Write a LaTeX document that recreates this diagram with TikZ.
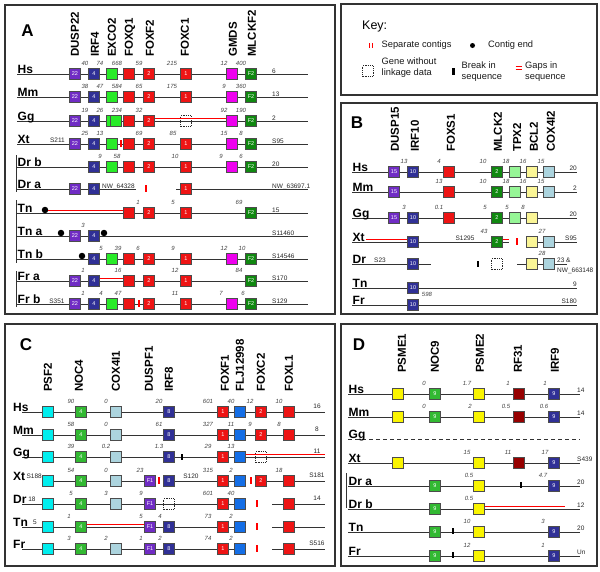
\documentclass[tikz,border=0pt]{standalone}
\usepackage{fontspec}
\setmainfont{Liberation Sans}
\definecolor{genepurple}{RGB}{112,44,196}
\definecolor{genenavy}{RGB}{48,48,150}
\definecolor{genegreen}{RGB}{40,235,40}
\definecolor{genemidgreen}{RGB}{50,185,50}
\definecolor{genedkgreen}{RGB}{16,136,16}
\definecolor{genelime}{RGB}{150,245,150}
\definecolor{genered}{RGB}{238,20,20}
\definecolor{genemaroon}{RGB}{150,0,0}
\definecolor{genemagenta}{RGB}{238,0,238}
\definecolor{genepale}{RGB}{250,245,150}
\definecolor{geneyellow}{RGB}{250,245,0}
\definecolor{genesteel}{RGB}{172,212,222}
\definecolor{genecyan}{RGB}{0,238,238}
\definecolor{geneblue}{RGB}{20,110,230}
\begin{document}
\begin{tikzpicture}
[x=1pt,y=-1pt,
  panelbox/.style={draw=black!80,line width=1.3pt},
  chromline/.style={draw=black!80,line width=0.9pt},
  gapline/.style={draw=red,line width=1pt},
  bracketline/.style={draw=black!80,line width=1pt},
  genebox/.style={shape=rectangle,draw=black!70,line width=0.8pt,minimum size=10.5pt,inner sep=0pt,text=white,font=\fontsize{5.5}{6}\selectfont},
  nolink/.style={genebox,draw=black!85,densely dotted,node contents={\mbox{}}},
  contigbar/.style={shape=rectangle,fill=red,inner sep=0pt,minimum width=2pt,minimum height=7pt},
  breakbar/.style={shape=rectangle,fill=black,inner sep=0pt,minimum width=2.2pt,minimum height=6.5pt},
  contigend/.style={shape=circle,fill=black,inner sep=0pt,minimum size=6.5pt},
  panellabel/.style={inner sep=0pt,font=\bfseries\fontsize{17}{20}\selectfont},
  genelabel/.style={rotate=90,anchor=west,inner sep=0pt,font=\bfseries\fontsize{11.5}{13}\selectfont},
  specieslabel/.style={anchor=base west,inner sep=0pt,font=\bfseries\fontsize{12}{14}\selectfont},
  distlabel/.style={inner sep=0pt,text=black!75,font=\itshape\fontsize{6}{7}\selectfont},
  endlabel/.style={anchor=base west,inner sep=0pt,text=black!85,font=\fontsize{6.5}{8}\selectfont},
  keytext/.style={anchor=west,inner sep=0pt,align=left,text=black!90,font=\fontsize{9.3}{11}\selectfont},
  %% one style per gene
  dusp22/.style={genebox,fill=genepurple,node contents={22}},
  irf4/.style={genebox,fill=genenavy,node contents={4}},
  exco2/.style={genebox,fill=genegreen,node contents={\mbox{}}},
  foxq1/.style={genebox,fill=genered,node contents={\mbox{}}},
  foxf2/.style={genebox,fill=genered,node contents={2}},
  foxc1/.style={genebox,fill=genered,node contents={1}},
  gmds/.style={genebox,fill=genemagenta,node contents={\mbox{}}},
  mlckf2/.style={genebox,fill=genedkgreen,node contents={F2}},
  dusp15/.style={genebox,fill=genepurple,node contents={15}},
  irf10/.style={genebox,fill=genenavy,node contents={10}},
  foxs1/.style={genebox,fill=genered,node contents={\mbox{}}},
  mlck2/.style={genebox,fill=genedkgreen,node contents={2}},
  tpx2/.style={genebox,fill=genelime,node contents={\mbox{}}},
  bcl2/.style={genebox,fill=genepale,node contents={\mbox{}}},
  cox4i2/.style={genebox,fill=genesteel,node contents={\mbox{}}},
  psf2/.style={genebox,fill=genecyan,node contents={\mbox{}}},
  noc4/.style={genebox,fill=genemidgreen,node contents={4}},
  cox4i1/.style={genebox,fill=genesteel,node contents={\mbox{}}},
  duspf1/.style={genebox,fill=genepurple,node contents={F1}},
  irf8/.style={genebox,fill=genenavy,node contents={8}},
  foxf1/.style={genebox,fill=genered,node contents={1}},
  flj12998/.style={genebox,fill=geneblue,node contents={\mbox{}}},
  foxc2/.style={genebox,fill=genered,node contents={2}},
  foxl1/.style={genebox,fill=genered,node contents={\mbox{}}},
  psme1/.style={genebox,fill=geneyellow,node contents={\mbox{}}},
  noc9/.style={genebox,fill=genemidgreen,node contents={9}},
  psme2/.style={genebox,fill=geneyellow,node contents={\mbox{}}},
  rf31/.style={genebox,fill=genemaroon,node contents={\mbox{}}},
  irf9/.style={genebox,fill=genenavy,node contents={9}}]
\useasboundingbox (0,0) rectangle (600,571);

%% ---------------- panel A
\draw[panelbox] (5,5) rectangle (335,314);
\node (alabel) at (27.5,31) [panellabel] {A};
\foreach \gname/\x in {DUSP22/75,IRF4/95,EXCO2/112,FOXQ1/130,FOXF2/150,FOXC1/185,GMDS/233,MLCKF2/252}
  \node (alab-\gname) at (\x,57) [genelabel] {\gname};
%% chromosome lines
\foreach \rowname/\y/\species/\xe/\endtext in {
  ahs/74/Hs/308/6, amm/97/Mm/308/13, agg/121/Gg/308/2, axt/144/Xt/308/S95,
  adrb/167/Dr b/308/20, adra/189/Dr a/136/NW\_63697.1, atn/213/Tn/308/15,
  atna/236/Tn a/308/S11460, atnb/259/Tn b/308/S14546, afra/281/Fr a/308/S170,
  afrb/304/Fr b/308/S129} {
  \coordinate (\rowname-s) at (17,\y);
  \coordinate (\rowname-e) at (\xe,\y);
  \draw[chromline] (\rowname-s) -- (\rowname-e);
  \node (\rowname-lab) at (17.5,\y-0.6) [specieslabel] {\species};
  \node (\rowname-end) at (272,\y-0.6) [endlabel] {\endtext};
}
\coordinate (adra-s2) at (176,189);
\coordinate (adra-e2) at (308,189);
\draw[chromline] (adra-s2) -- (adra-e2);
%% genes
\foreach \g/\x in {dusp22/75,irf4/94,exco2/112,foxq1/129,foxf2/149,foxc1/186,gmds/232,mlckf2/251} {
  \node (ahs-\g) at (\x,74) [\g];
  \node (amm-\g) at (\x,97) [\g];
  \node (axt-\g) at (\x,144) [\g];
  \node (afrb-\g) at (\x,304) [\g];
}
\foreach \g/\x in {irf4/94,exco2/112,foxq1/129,foxf2/149,foxc1/186,gmds/232,mlckf2/251} {
  \node (adrb-\g) at (\x,167) [\g];
  \node (atnb-\g) at (\x,259) [\g];
}
\foreach \g/\x in {dusp22/75,irf4/94,exco2/112,foxq1/129,foxf2/149,gmds/232,mlckf2/251}
  \node (agg-\g) at (\x,121) [\g];
\foreach \g/\x in {dusp22/75,irf4/94,foxc1/186}
  \node (adra-\g) at (\x,189) [\g];
\foreach \g/\x in {foxq1/129,foxf2/149,foxc1/186,mlckf2/251}
  \node (atn-\g) at (\x,213) [\g];
\foreach \g/\x in {dusp22/75,irf4/94}
  \node (atna-\g) at (\x,236) [\g];
\foreach \g/\x in {dusp22/75,irf4/94,foxq1/129,foxf2/149,foxc1/186,mlckf2/251}
  \node (afra-\g) at (\x,281) [\g];
\node (agg-exco2b) at (116,121) [exco2];
\node (agg-foxc1) at (186,121) [nolink];
%% contigs, ends and gaps
\node (axt-sep) at (121,143) [contigbar] {};
\node (adra-sep) at (146,188) [contigbar] {};
\node (afrb-sep) at (139,303) [contigbar] {};
\node (atn-dot) at (45,210) [contigend] {};
\node (atna-dot1) at (61,233) [contigend] {};
\node (atna-dot2) at (104,233) [contigend] {};
\node (atnb-dot) at (82,256) [contigend] {};
\draw[gapline] ([yshift=3pt]agg-foxf2.east) -- ([yshift=3pt]agg-gmds.west);
\draw[gapline] (atn-dot.east) -- ([yshift=3pt]atn-foxq1.west);
\draw[gapline] ([yshift=3pt]afra-irf4.east) -- ([yshift=3pt]afra-foxq1.west);
\node (axt-scaf) at (57.5,142.8) [endlabel,anchor=base] {S211};
\node (afrb-scaf) at (57,303) [endlabel,anchor=base] {S351};
\node (adra-nw) at (102,188.4) [endlabel] {NW\_64328};
\draw[bracketline] (16,155) -- (16,192);
\draw[bracketline] (16,200) -- (16,263);
\draw[bracketline] (16,271) -- (16,307);
%% distances
\foreach \rowname/\y/\dists in {
  ahs/63.5/{40/85,74/100,668/117,59/139,215/172,12/224,400/241},
  amm/86.5/{38/85,47/100,584/117,65/139,175/172,9/224,360/241},
  agg/110.5/{19/85,26/100,234/117,32/139,92/224,190/241},
  axt/133.5/{25/85,13/100,69/139,85/173,15/224,8/241},
  adrb/156.5/{9/100,58/117,10/175,9/221,6/241},
  atn/202.5/{1/138,5/173,69/239},
  atna/225.5/{3/83},
  atnb/248.5/{5/101,39/118,6/138,9/173,12/224,10/242},
  afra/270.5/{1/83,16/118,12/175,84/239},
  afrb/293.5/{1/83,4/101,47/118,11/175,7/221,6/243}}
  \foreach \dist/\x [count=\i] in \dists
    \node (\rowname-d\i) at (\x,\y) [distlabel] {\dist};

%% ---------------- key
\draw[panelbox] (341,4) rectangle (597,95);
\node (keytitle) at (362,26) [anchor=west,inner sep=0pt,font=\fontsize{12.5}{14}\selectfont] {Key:};
\node (key-sep1) at (369.5,45) [contigbar,minimum width=1.4pt,minimum height=5pt] {};
\node (key-sep2) at (372.3,45) [contigbar,minimum width=1.4pt,minimum height=5pt] {};
\node (key-septext) at (381.5,45) [keytext] {Separate contigs};
\node (key-dot) at (472.5,45.5) [contigend,minimum size=5pt] {};
\node (key-dottext) at (488,45) [keytext] {Contig end};
\node (key-nolink) at (368,71) [nolink];
\node (key-nolinktext) at (381.5,68) [keytext] {Gene without\\linkage data};
\node (key-brk) at (453.5,71.5) [breakbar] {};
\node (key-brktext) at (461.5,72) [keytext] {Break in\\sequence};
\foreach \yy [count=\i] in {66.7,69.3} {
  \coordinate (key-gap\i-s) at (515.5,\yy);
  \coordinate (key-gap\i-e) at (521.5,\yy);
  \draw[gapline,line width=1.1pt] (key-gap\i-s) -- (key-gap\i-e);
}
\node (key-gaptext) at (525,72) [keytext] {Gaps in\\sequence};

%% ---------------- panel B
\draw[panelbox] (341,103) rectangle (597,314);
\node (blabel) at (357,123) [panellabel] {B};
\foreach \gname/\x in {DUSP15/395,IRF10/415,FOXS1/451,MLCK2/498,TPX2/517,BCL2/534,COX4I2/551}
  \node (blab-\gname) at (\x,152) [genelabel] {\gname};
\foreach \rowname/\y/\species/\xe/\endtext in {
  bhs/172/Hs/577/20, bmm/192/Mm/577/2, bgg/218/Gg/577/20, bxt/242/Xt/509/S95,
  bdr/264/Dr/431/{}, btn/288/Tn/577/9, bfr/305/Fr/577/S180} {
  \coordinate (\rowname-s) at (352,\y);
  \coordinate (\rowname-e) at (\xe,\y);
  \draw[chromline] (\rowname-s) -- (\rowname-e);
  \node (\rowname-lab) at (352.5,\y-0.6) [specieslabel] {\species};
  \node (\rowname-end) at (577,\y-1.5) [endlabel,anchor=base east] {\endtext};
}
\foreach \rowname/\y/\xs/\xe in {bxt/242/526/577, bdr/264/517/567} {
  \coordinate (\rowname-s2) at (\xs,\y);
  \coordinate (\rowname-e2) at (\xe,\y);
  \draw[chromline] (\rowname-s2) -- (\rowname-e2);
}
\foreach \g/\x in {dusp15/394,irf10/413,foxs1/449,mlck2/497,tpx2/515,bcl2/532,cox4i2/549}
  \node (bhs-\g) at (\x,172) [\g];
\foreach \g/\x in {dusp15/394,foxs1/449,mlck2/497,tpx2/515,bcl2/532,cox4i2/549}
  \node (bmm-\g) at (\x,192) [\g];
\foreach \g/\x in {dusp15/394,irf10/413,foxs1/449,mlck2/497,tpx2/515,bcl2/532}
  \node (bgg-\g) at (\x,218) [\g];
\foreach \g/\x in {irf10/413,mlck2/497,bcl2/532,cox4i2/549}
  \node (bxt-\g) at (\x,242) [\g];
\foreach \g/\x in {irf10/413,bcl2/532,cox4i2/549}
  \node (bdr-\g) at (\x,264) [\g];
\node (bdr-mlck2) at (497,264) [nolink];
\node (btn-irf10) at (413,288) [irf10];
\node (bfr-irf10) at (413,305) [irf10];
\coordinate (bxt-gap) at (366,242);
\draw[gapline] ([yshift=3pt]bxt-gap) -- ([yshift=3pt]bxt-irf10.west);
\draw[gapline] ([yshift=3pt]bxt-mlck2.east) -- ([yshift=3pt]bxt-e);
\node (bxt-sep) at (517,241) [contigbar] {};
\node (bdr-brk) at (478,264) [breakbar] {};
\node (bxt-scaf) at (465,240.5) [endlabel,anchor=base] {S1295};
\node (bdr-scaf) at (380,262.5) [endlabel,anchor=base] {S23};
\node (bdr-end1) at (557,262.5) [endlabel] {23 \&};
\node (bdr-end2) at (557,272.7) [endlabel] {NW\_663148};
\foreach \rowname/\y/\dists in {
  bhs/161.5/{13/404,4/439,10/483,18/506,16/523,15/541},
  bmm/181.5/{13/439,10/483,18/506,16/523,15/541},
  bgg/207.5/{3/404,0.1/439,5/485,5/507,8/523},
  bxt/231.5/{43/484,27/542},
  bdr/253.5/{28/542},
  bfr/294.5/{598/427}}
  \foreach \dist/\x [count=\i] in \dists
    \node (\rowname-d\i) at (\x,\y) [distlabel] {\dist};

%% ---------------- panel C
\draw[panelbox] (5,324) rectangle (335,566);
\node (clabel) at (26,345) [panellabel] {C};
\foreach \gname/\x in {PSF2/48,NOC4/79,COX4I1/116,DUSPF1/149,IRF8/169,FOXF1/225,FLJ12998/240,FOXC2/261,FOXL1/289}
  \node (clab-\gname) at (\x,392) [genelabel] {\gname};
\foreach \rowname/\y/\species/\xs/\xe/\endtext in {
  chs/412/Hs/22/325/16, cmm/435/Mm/22/325/8, cgg/457/Gg/22/325/11,
  cxt/481/Xt/42/155/S181, cdr/504/Dr/22/245/14, ctn/527/Tn/22/245/{},
  cfr/549/Fr/22/245/S516} {
  \coordinate (\rowname-s) at (\xs,\y);
  \coordinate (\rowname-e) at (\xe,\y);
  \draw[chromline] (\rowname-s) -- (\rowname-e);
  \node (\rowname-lab) at (13,\y-0.6) [specieslabel] {\species};
  \node (\rowname-end) at (317,\y-4) [endlabel,anchor=base] {\endtext};
}
\foreach \rowname/\y/\xs/\xe in {cxt/481/256/325, cdr/504/272/325, ctn/527/272/325, cfr/549/272/325} {
  \coordinate (\rowname-s2) at (\xs,\y);
  \coordinate (\rowname-e2) at (\xe,\y);
  \draw[chromline] (\rowname-s2) -- (\rowname-e2);
}
\coordinate (cxt-s3) at (164,481);
\coordinate (cxt-e3) at (245,481);
\draw[chromline] (cxt-s3) -- (cxt-e3);
\foreach \g/\x in {psf2/48,noc4/81,cox4i1/116,irf8/169,foxf1/223,flj12998/240,foxc2/261,foxl1/289} {
  \node (chs-\g) at (\x,412) [\g];
  \node (cmm-\g) at (\x,435) [\g];
}
\foreach \g/\x in {psf2/48,noc4/81,cox4i1/116,irf8/169,foxf1/223,flj12998/240}
  \node (cgg-\g) at (\x,457) [\g];
\foreach \g/\x in {psf2/48,noc4/81,cox4i1/116,duspf1/150,irf8/169,foxf1/223,flj12998/240,foxc2/261,foxl1/289}
  \node (cxt-\g) at (\x,481) [\g];
\foreach \g/\x in {psf2/48,noc4/81,cox4i1/116,duspf1/150,foxf1/223,flj12998/240,foxl1/289}
  \node (cdr-\g) at (\x,504) [\g];
\foreach \g/\x in {psf2/48,noc4/81,duspf1/150,irf8/169,foxf1/223,flj12998/240,foxl1/289}
  \node (ctn-\g) at (\x,527) [\g];
\foreach \g/\x in {psf2/48,noc4/81,cox4i1/116,duspf1/150,irf8/169,foxf1/223,flj12998/240,foxl1/289}
  \node (cfr-\g) at (\x,549) [\g];
\node (cgg-foxc2) at (261,457) [nolink];
\node (cdr-irf8) at (169,504) [nolink];
\node (cgg-brk) at (182,457) [breakbar] {};
\draw[gapline] ([yshift=2.5pt]cgg-flj12998.east) -- ([yshift=2.5pt]cgg-e);
\draw[gapline] ([yshift=3pt]ctn-noc4.east) -- ([yshift=3pt]ctn-duspf1.west);
\node (cxt-sep1) at (159,480) [contigbar] {};
\node (cxt-sep2) at (251,480) [contigbar] {};
\foreach \rowname/\y in {cdr/503, ctn/526, cfr/548}
  \node (\rowname-sep) at (257,\y) [contigbar] {};
\node (cxt-scaf1) at (42,478.5) [endlabel,anchor=base east] {S188};
\node (cxt-scaf2) at (191,478.5) [endlabel,anchor=base] {S120};
\node (cdr-scaf) at (32,501.5) [endlabel,anchor=base] {18};
\node (ctn-scaf) at (35,524.5) [endlabel,anchor=base] {5};
\foreach \rowname/\y/\dists in {
  chs/401.5/{90/71,0/106,20/159,601/208,40/231,12/250,10/279},
  cmm/424.5/{58/71,0/106,61/159,327/208,11/231,9/250,8/279},
  cgg/446.5/{39/71,0.2/106,1.3/159,29/208,13/231},
  cxt/470.5/{54/71,0/106,23/140,315/208,2/231,18/279},
  cdr/493.5/{5/71,3/106,9/141,601/208,40/231},
  ctn/516.5/{1/69,5/141,4/160,73/208,2/231},
  cfr/538.5/{3/69,2/106,1/141,2/160,74/208,2/231}}
  \foreach \dist/\x [count=\i] in \dists
    \node (\rowname-d\i) at (\x,\y) [distlabel] {\dist};

%% ---------------- panel D
\draw[panelbox] (341,324) rectangle (597,566);
\node (dlabel) at (359,345) [panellabel] {D};
\foreach \gname/\x in {PSME1/402,NOC9/435,PSME2/480,RF31/518,IRF9/555}
  \node (dlab-\gname) at (\x,373) [genelabel] {\gname};
\foreach \rowname/\y/\species/\endtext in {
  dhs/394/Hs/14, dmm/417/Mm/14, dxt/463/Xt/S439, ddra/486/Dr a/20,
  ddrb/509/Dr b/12, dtn/532/Tn/20, dfr/556/Fr/Un} {
  \coordinate (\rowname-s) at (348,\y);
  \coordinate (\rowname-e) at (580,\y);
  \draw[chromline] (\rowname-s) -- (\rowname-e);
  \node (\rowname-lab) at (348.5,\y-0.6) [specieslabel] {\species};
  \node (\rowname-end) at (577,\y-2) [endlabel] {\endtext};
}
\coordinate (dgg-s) at (348,439);
\coordinate (dgg-e) at (580,439);
\draw[chromline,dash pattern=on 4pt off 3pt] (dgg-s) -- (dgg-e);
\node (dgg-lab) at (348.5,438.4) [specieslabel] {Gg};
\foreach \g/\x in {psme1/398,noc9/435,psme2/479,rf31/519,irf9/554} {
  \node (dhs-\g) at (\x,394) [\g];
  \node (dmm-\g) at (\x,417) [\g];
}
\foreach \g/\x in {psme1/398,psme2/479,rf31/519,irf9/554}
  \node (dxt-\g) at (\x,463) [\g];
\foreach \g/\x in {noc9/435,psme2/479,irf9/554} {
  \node (ddra-\g) at (\x,486) [\g];
  \node (dtn-\g) at (\x,532) [\g];
  \node (dfr-\g) at (\x,556) [\g];
}
\foreach \g/\x in {noc9/435,psme2/479}
  \node (ddrb-\g) at (\x,509) [\g];
\node (ddra-brk) at (521,485) [breakbar] {};
\node (dtn-brk) at (453,531) [breakbar] {};
\node (dfr-brk) at (453,555) [breakbar] {};
\coordinate (ddrb-gap) at (565,509);
\draw[gapline] ([yshift=3pt]ddrb-psme2.east) -- ([yshift=3pt]ddrb-gap);
\draw[bracketline] (346,473) -- (346,508);
\foreach \rowname/\y/\dists in {
  dhs/383/{0/424,1.7/467,1/508,1/545},
  dmm/406/{0/424,2/470,0.5/506,0.6/544},
  dxt/452/{15/467,11/508,17/545},
  ddra/475/{0.5/469,4.7/543},
  ddrb/498/{0.5/469},
  dtn/521/{10/467,3/543},
  dfr/545/{12/467,1/543}}
  \foreach \dist/\x [count=\i] in \dists
    \node (\rowname-d\i) at (\x,\y) [distlabel] {\dist};
\end{tikzpicture}
\end{document}
